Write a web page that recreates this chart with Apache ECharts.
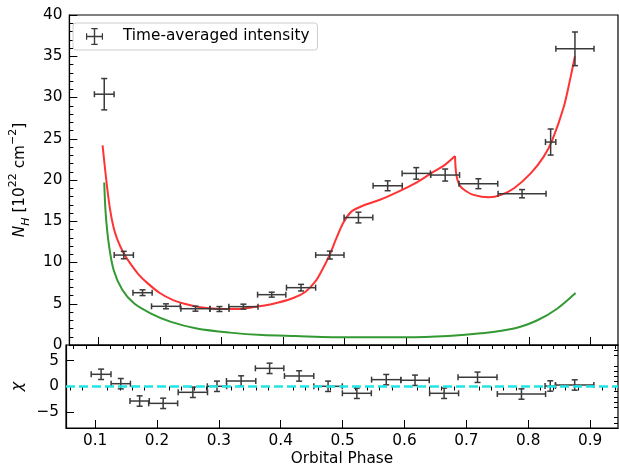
<!DOCTYPE html>
<html>
<head>
<meta charset="utf-8">
<script src="https://cdn.jsdelivr.net/npm/echarts@6/dist/echarts.min.js"></script>
<style>
  html, body { margin: 0; padding: 0; background: #fff; }
  #chart { width: 619px; height: 469px; }
</style>
</head>
<body>
<div id="chart"></div>
<script>
// measured bins
const phase = [0.1097, 0.1415, 0.172, 0.210, 0.258, 0.297, 0.336, 0.382, 0.4297, 0.4765, 0.523, 0.5705, 0.617, 0.664, 0.718, 0.789, 0.8355, 0.875];
const phaseErr = [0.016, 0.0156, 0.0156, 0.0234, 0.0237, 0.0156, 0.0237, 0.023, 0.0237, 0.023, 0.0234, 0.0237, 0.023, 0.0234, 0.0315, 0.039, 0.0084, 0.031];
const nh = [30.4, 10.9, 6.34, 4.69, 4.4, 4.36, 4.65, 6.1, 6.95, 10.9, 15.45, 19.3, 20.8, 20.6, 19.55, 18.34, 24.6, 35.9];
const nhErr = [1.9, 0.45, 0.35, 0.3, 0.3, 0.3, 0.3, 0.3, 0.4, 0.48, 0.65, 0.6, 0.7, 0.73, 0.6, 0.5, 1.58, 2.04];
const chi = [2.35, 0.54, -2.8, -3.25, -1.12, 0.04, 1.06, 3.5, 2.03, 0.04, -1.31, 1.32, 1.2, -1.31, 1.78, -1.45, 0.1, 0.29];
const chiErr = [1, 1, 1, 1, 1, 1, 1, 1, 1, 1, 1, 1, 1, 1, 1, 1, 1, 1];

// total model (red), split at the cusp
const modelPhaseA = [0.107, 0.113, 0.119, 0.125, 0.131, 0.14, 0.15, 0.165, 0.18, 0.2, 0.22, 0.24, 0.26, 0.28, 0.3, 0.325, 0.351, 0.383, 0.416, 0.437, 0.453, 0.464, 0.476, 0.488, 0.499, 0.512, 0.534, 0.558, 0.588, 0.615, 0.641, 0.663, 0.680];
const modelNhA = [24.2, 20.0, 16.5, 14.2, 12.8, 11.3, 10.1, 8.6, 7.5, 6.3, 5.5, 5.0, 4.65, 4.45, 4.35, 4.35, 4.57, 4.97, 5.66, 6.46, 7.7, 9.1, 10.9, 13.1, 14.9, 16.2, 17.0, 17.6, 18.6, 19.6, 20.8, 21.8, 22.9];
const modelPhaseB = [0.680, 0.6815, 0.684, 0.689, 0.697, 0.71, 0.735, 0.755, 0.776, 0.803, 0.824, 0.838, 0.857, 0.868, 0.875];
const modelNhB = [22.9, 21.0, 20.0, 19.2, 18.7, 18.2, 17.9, 18.2, 19.0, 20.8, 22.8, 24.8, 28.9, 32.5, 35.0];

// wind component (green)
const windPhase = [0.1097, 0.112, 0.117, 0.125, 0.139, 0.158, 0.185, 0.217, 0.26, 0.314, 0.367, 0.421, 0.48, 0.54, 0.6, 0.669, 0.722, 0.776, 0.814, 0.846, 0.876];
const windNh = [19.7, 16.0, 12.3, 9.1, 6.7, 5.05, 3.84, 2.83, 2.0, 1.5, 1.2, 1.08, 0.95, 0.93, 0.93, 1.09, 1.41, 2.0, 3.0, 4.4, 6.3];

const xMin = 0.053, xMax = 0.945;
const xMajor = [0.1, 0.2, 0.3, 0.4, 0.5, 0.6, 0.7, 0.8, 0.9];
const chiMajor = [-5, 0, 5];

const xMinor = [];
for (let i = 3; i <= 47; i++) {
  if (i % 5 !== 0) xMinor.push(+(i * 0.02).toFixed(2));
}
const chiMinor = [];
for (let v = -7; v <= 7; v++) {
  if (v % 5 !== 0) chiMinor.push(v);
}

const font = 'DejaVu Sans';
const fs = 15.3;
const barColor = '#3a3a3a';

function errorBars(params, api) {
  const x = api.value(0), y = api.value(1), dx = api.value(2), dy = api.value(3);
  const c = api.coord([x, y]);
  const l = api.coord([x - dx, y]);
  const r = api.coord([x + dx, y]);
  const t = api.coord([x, y + dy]);
  const b = api.coord([x, y - dy]);
  const cap = 3;
  const style = { stroke: barColor, lineWidth: 1.5, fill: null };
  const seg = (x1, y1, x2, y2) => ({ type: 'line', shape: { x1, y1, x2, y2 }, style });
  return {
    type: 'group',
    children: [
      seg(l[0], c[1], r[0], c[1]),
      seg(c[0], t[1], c[0], b[1]),
      seg(l[0], c[1] - cap, l[0], c[1] + cap),
      seg(r[0], c[1] - cap, r[0], c[1] + cap),
      seg(c[0] - cap, t[1], c[0] + cap, t[1]),
      seg(c[0] - cap, b[1], c[0] + cap, b[1])
    ]
  };
}

const axisLine = { show: true, onZero: false, lineStyle: { color: '#000', width: 1.2 } };
const majorTick = { show: true, inside: true, length: 8, lineStyle: { color: '#000', width: 1 } };
const minorTickStyle = { show: true, inside: true, length: 4, lineStyle: { color: '#000', width: 1 } };
const labelStyle = { color: '#000', fontSize: fs, fontFamily: font };

function curve(name, xs, ys, color, z) {
  return {
    name: name,
    type: 'line',
    xAxisIndex: 0, yAxisIndex: 0,
    data: xs.map((p, i) => [p, ys[i]]),
    smooth: 0.3,
    showSymbol: false,
    lineStyle: { color: color, width: 2 },
    z: z
  };
}

const chart = echarts.init(document.getElementById('chart'));

const option = {
  animation: false,
  backgroundColor: '#fff',
  grid: [
    { left: 66, right: 1, top: 15, height: 330, show: true, borderColor: '#000', borderWidth: 1.2 },
    { left: 66, right: 1, top: 345, height: 83, show: true, borderColor: '#000', borderWidth: 1.2 }
  ],
  legend: {
    left: 73,
    top: 23,
    padding: [5, 8, 5, 13],
    itemWidth: 17,
    itemHeight: 17,
    borderColor: '#cccccc',
    borderWidth: 1,
    borderRadius: 3,
    backgroundColor: '#fff',
    textStyle: { color: '#000', fontSize: fs, fontFamily: font, padding: [0, 0, 0, 15] },
    data: [{
      name: 'Time-averaged intensity',
      icon: 'path://M0,7.8H17V9.2H0Z M7.8,0H9.2V17H7.8Z M0,5.3H1.2V11.7H0Z M15.8,5.3H17V11.7H15.8Z M5.3,0H11.7V1.2H5.3Z M5.3,15.8H11.7V17H5.3Z',
      itemStyle: { color: barColor }
    }]
  },
  xAxis: [
    {
      gridIndex: 0, type: 'value', min: xMin, max: xMax,
      axisLine, splitLine: { show: false },
      axisTick: Object.assign({ customValues: xMajor }, majorTick),
      axisLabel: { show: false }
    },
    {
      gridIndex: 0, type: 'value', min: xMin, max: xMax,
      axisLine: { show: false }, splitLine: { show: false },
      axisTick: Object.assign({ customValues: xMinor }, minorTickStyle),
      axisLabel: { show: false }
    },
    {
      gridIndex: 1, type: 'value', min: xMin, max: xMax,
      name: 'Orbital Phase', nameLocation: 'middle', nameGap: 24,
      nameTextStyle: labelStyle,
      axisLine, splitLine: { show: false },
      axisTick: Object.assign({ customValues: xMajor }, majorTick),
      axisLabel: Object.assign({ customValues: xMajor, margin: 6, formatter: v => v.toFixed(1) }, labelStyle)
    },
    {
      gridIndex: 1, type: 'value', min: xMin, max: xMax,
      axisLine: { show: false }, splitLine: { show: false },
      axisTick: Object.assign({ customValues: xMinor }, minorTickStyle),
      axisLabel: { show: false }
    }
  ],
  yAxis: [
    {
      gridIndex: 0, type: 'value', min: 0, max: 40, interval: 5,
      name: '{it|N}{sub|H}{n| [10}{sup|22}{n| cm}{sup|−2}{n|]}',
      nameLocation: 'middle', nameGap: 29,
      nameTextStyle: {
        color: '#000', fontFamily: font, fontSize: fs,
        rich: {
          it: { fontStyle: 'italic', fontSize: fs, fontFamily: font, color: '#000', lineHeight: 24, verticalAlign: 'middle' },
          sub: { fontStyle: 'italic', fontSize: 11, fontFamily: font, color: '#000', lineHeight: 11, verticalAlign: 'bottom' },
          sup: { fontSize: 11, fontFamily: font, color: '#000', lineHeight: 11, verticalAlign: 'top' },
          n: { fontSize: fs, fontFamily: font, color: '#000', lineHeight: 24, verticalAlign: 'middle' }
        }
      },
      axisLine, splitLine: { show: false },
      axisTick: majorTick,
      minorTick: { show: true, splitNumber: 5, length: 4, lineStyle: { color: '#000', width: 1 } },
      axisLabel: Object.assign({ margin: 7 }, labelStyle)
    },
    {
      gridIndex: 1, type: 'value', min: -8, max: 8,
      name: 'χ', nameLocation: 'middle', nameGap: 36,
      nameTextStyle: { color: '#000', fontSize: 16, fontFamily: font, fontStyle: 'italic' },
      axisLine, splitLine: { show: false },
      axisTick: Object.assign({ customValues: chiMajor }, majorTick),
      axisLabel: Object.assign({ customValues: chiMajor, margin: 7, formatter: v => (v < 0 ? '−' + Math.abs(v) : String(v)) }, labelStyle)
    },
    {
      gridIndex: 1, type: 'value', min: -8, max: 8,
      axisLine: { show: false }, splitLine: { show: false },
      axisTick: Object.assign({ customValues: chiMinor }, minorTickStyle),
      axisLabel: { show: false }
    }
  ],
  series: [
    curve('wind', windPhase, windNh, '#339933', 2),
    curve('model', modelPhaseA, modelNhA, '#ff3333', 3),
    curve('model', modelPhaseB, modelNhB, '#ff3333', 3),
    {
      name: 'Time-averaged intensity',
      type: 'custom',
      xAxisIndex: 0, yAxisIndex: 0,
      itemStyle: { color: barColor },
      renderItem: errorBars,
      encode: { x: 0, y: 1 },
      data: phase.map((p, i) => [p, nh[i], phaseErr[i], nhErr[i]]),
      z: 4
    },
    {
      name: 'residuals',
      type: 'custom',
      xAxisIndex: 2, yAxisIndex: 1,
      itemStyle: { color: barColor },
      renderItem: errorBars,
      encode: { x: 0, y: 1 },
      data: phase.map((p, i) => [p, chi[i], phaseErr[i], chiErr[i]]),
      markLine: {
        silent: true,
        symbol: 'none',
        label: { show: false },
        lineStyle: { color: '#22e5e5', width: 2.5, type: [9, 4] },
        data: [{ yAxis: 0 }]
      },
      z: 4
    }
  ]
};

chart.setOption(option);
</script>
</body>
</html>
